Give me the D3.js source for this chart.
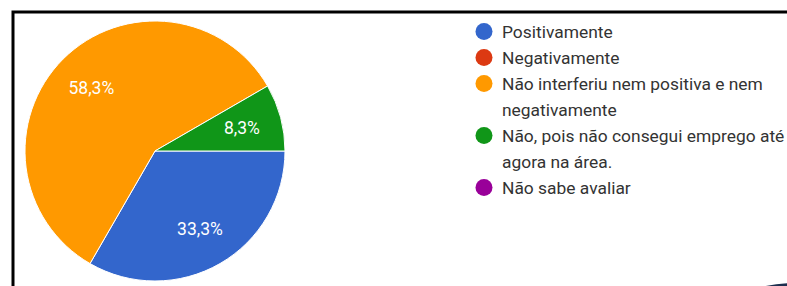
<!DOCTYPE html>
<html lang="pt">
<head>
<meta charset="utf-8">
<title>Pie</title>
<script src="https://d3js.org/d3.v7.min.js"></script>
<style>
  body { margin: 0; background: #fff; }
  text { font-family: Roboto, "Liberation Sans", Arial, sans-serif; }
</style>
</head>
<body>
<script>
// respostas
var categorias = ["Positivamente", "Negativamente", "Não interferiu nem positiva e nem negativamente",
                  "Não, pois não consegui emprego até agora na área.", "Não sabe avaliar"];
var respostas = [4, 0, 7, 1, 0];
var cores = ["#3366cc", "#dc3912", "#ff9900", "#109618", "#990099"];

var W = 787, H = 286;
var cx = 155, cy = 151, raio = 130;

var svg = d3.select("body").append("svg")
  .attr("width", W).attr("height", H);

// moldura (recorte)
svg.append("path")
  .attr("d", "M13,287 L13,12 L788,12")
  .attr("fill", "none").attr("stroke", "#000").attr("stroke-width", 3);

// pedaço de outra figura no canto
svg.append("circle")
  .attr("cx", 795).attr("cy", 433).attr("r", 150)
  .attr("fill", "#1d2f4f");

var dados = categorias.map(function(c, i){ return {cat: c, v: respostas[i], cor: cores[i]}; });
var total = d3.sum(respostas);

var pie = d3.pie().sort(null).value(function(d){ return d.v; })
  .startAngle(Math.PI / 2).endAngle(Math.PI / 2 + 2 * Math.PI);
var arc = d3.arc().innerRadius(0).outerRadius(raio);
var arcLabel = d3.arc().innerRadius(90).outerRadius(90);

var g = svg.append("g").attr("transform", "translate(" + cx + "," + cy + ")");
var fatias = pie(dados).filter(function(d){ return d.data.v > 0; });

g.selectAll("path.fatia").data(fatias).enter()
  .append("path").attr("class", "fatia")
  .attr("d", arc)
  .attr("fill", function(d){ return d.data.cor; })
  .attr("stroke", "#fff").attr("stroke-width", 1);

var fmt = function(v){ return (v / total * 100).toFixed(1).replace(".", ",") + "%"; };
g.selectAll("text.rot").data(fatias).enter()
  .append("text").attr("class", "rot")
  .attr("transform", function(d){ return "translate(" + arcLabel.centroid(d) + ")"; })
  .attr("text-anchor", "middle").attr("dy", "0.36em")
  .attr("fill", "#fff").style("font-size", "17.5px")
  .text(function(d){ return fmt(d.data.v); });

// legenda
var legX = 484, legTxtX = 502, y0 = 31.5, passo = 26, maxW = 300;
var leg = svg.append("g");
var y = y0;
dados.forEach(function(d){
  leg.append("circle").attr("cx", legX).attr("cy", y).attr("r", 8.5).attr("fill", d.cor);
  var t = leg.append("text").attr("x", legTxtX).attr("y", y)
    .attr("fill", "#333").style("font-size", "17.4px");
  var palavras = d.cat.split(" "), linha = [], n = 0;
  var ts = t.append("tspan").attr("x", legTxtX).attr("dy", "0.36em");
  palavras.forEach(function(p){
    linha.push(p);
    ts.text(linha.join(" "));
    if (ts.node().getComputedTextLength() > maxW && linha.length > 1) {
      linha.pop();
      ts.text(linha.join(" "));
      linha = [p];
      n++;
      ts = t.append("tspan").attr("x", legTxtX).attr("dy", passo).text(p);
    }
  });
  y += passo * (n + 1);
});
</script>
</body>
</html>
